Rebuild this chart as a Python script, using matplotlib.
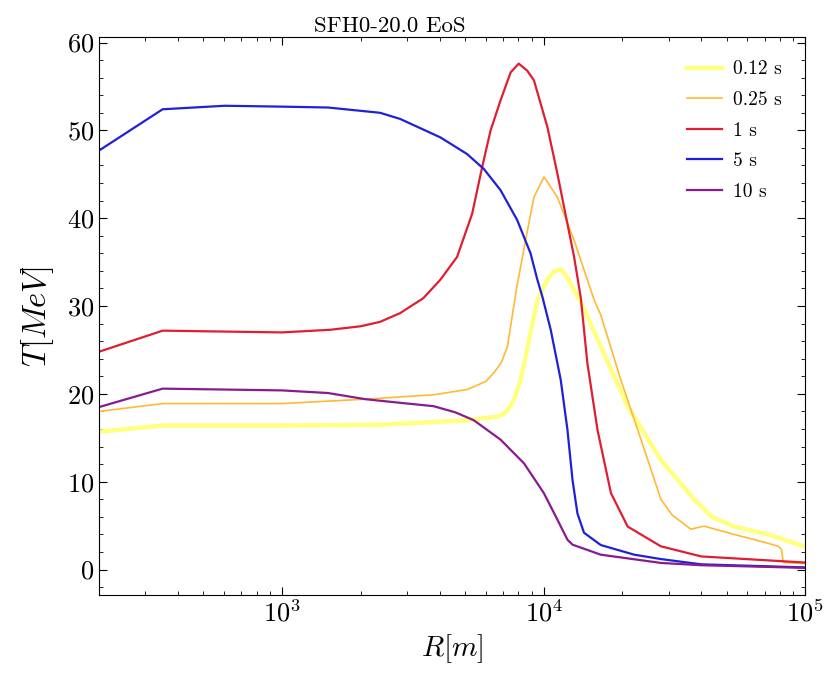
import matplotlib
matplotlib.use('Agg')

import matplotlib.pyplot as plt
import numpy as np

plt.rcParams.update({
    'font.family': 'serif',
    'font.serif': ['cmr10', 'DejaVu Serif'],
    'mathtext.fontset': 'cm',
    'axes.formatter.use_mathtext': True,
    'axes.unicode_minus': False,
    'font.size': 19,
    'xtick.direction': 'in',
    'ytick.direction': 'in',
    'xtick.top': True,
    'ytick.right': True,
    'xtick.major.size': 6,
    'ytick.major.size': 6,
    'xtick.minor.size': 3,
    'ytick.minor.size': 3,
    'xtick.minor.visible': True,
    'ytick.minor.visible': True,
})

# radius (m) and temperature (MeV)
r_012 = [200, 350, 1000, 2400, 5100, 6640, 7100, 7480, 7800, 8170, 8790, 9460, 10330,
         10900, 11620, 12300, 13070, 13900, 16520, 20940, 28000, 37600, 44000, 53500,
         72100, 100000]
t_012 = [15.7, 16.4, 16.4, 16.5, 17.0, 17.4, 17.8, 18.6, 19.8, 21.6, 26.1, 30.7, 33.0,
         33.9, 34.2, 33.3, 31.8, 30.4, 25.4, 18.6, 12.5, 8.0, 6.0, 4.9,
         4.0, 2.6]

r_025 = [200, 350, 1000, 2080, 3800, 5100, 6000, 6450, 6900, 7270, 7880, 8530, 9180,
         10030, 11280, 13070, 15590, 16520, 19720, 23550, 28050, 31000, 36500, 41000,
         53500, 70000, 78900, 81000, 82400, 100000]
t_025 = [18.0, 18.9, 18.9, 19.4, 19.9, 20.5, 21.4, 22.4, 23.6, 25.4, 32.0, 37.5, 42.4,
         44.7, 42.4, 37.5, 30.7, 29.0, 21.6, 14.8, 8.0, 6.2, 4.6, 4.95,
         4.0, 3.1, 2.65, 2.3, 0.8, 0.7]

r_1 = [200, 350, 1000, 1530, 2000, 2370, 2830, 3470, 4030, 4670, 5330, 5820, 6270,
       6840, 7480, 8030, 8650, 9180, 10330, 11280, 11960, 13070, 13870, 14690, 16060,
       18080, 20940, 28050, 40000, 100000]
t_1 = [24.8, 27.2, 27.0, 27.3, 27.7, 28.2, 29.2, 30.9, 33.0, 35.6, 40.5, 45.8, 50.0,
       53.4, 56.6, 57.6, 56.8, 55.7, 50.4, 45.1, 41.3, 35.6, 30.9, 23.5, 15.9,
       8.7, 4.9, 2.65, 1.5, 0.8]

r_5 = [200, 350, 605, 1000, 1500, 2370, 2830, 4030, 5100, 5910, 6840, 7920, 8910,
       9460, 9880, 10640, 11620, 12330, 12890, 13460, 14260, 16520, 22170, 28050,
       40000, 100000]
t_5 = [47.7, 52.4, 52.8, 52.7, 52.6, 52.0, 51.3, 49.2, 47.3, 45.6, 43.2, 39.8, 36.0,
       33.0, 31.1, 27.3, 21.6, 15.9, 10.2, 6.4, 4.2, 2.8, 1.7, 1.2,
       0.6, 0.25]

r_10 = [200, 350, 1000, 1500, 2080, 2800, 3800, 4600, 5410, 6840, 8410, 10020, 11280,
        12330, 12890, 16520, 28050, 40000, 100000]
t_10 = [18.5, 20.6, 20.4, 20.1, 19.4, 19.0, 18.6, 17.9, 17.0, 14.8, 12.1, 8.7, 5.7,
        3.4, 2.84, 1.7, 0.76, 0.5, 0.2]

fig = plt.figure(figsize=(8.32, 6.77), dpi=100)
ax = fig.add_axes([0.119, 0.121, 0.849, 0.824])

ax.plot(r_012, t_012, color='#ffff80', lw=3.2, label='0.12 s')
ax.plot(r_025, t_025, color='#ffb934', lw=1.2, label='0.25 s')
ax.plot(r_1, t_1, color='#e01e32', lw=1.6, label='1 s')
ax.plot(r_5, t_5, color='#2020d8', lw=1.6, label='5 s')
ax.plot(r_10, t_10, color='#8a1a90', lw=1.6, label='10 s')

ax.set_xscale('log')
ax.set_xlim(200, 1e5)
ax.set_ylim(-2.9, 60.6)
ax.yaxis.set_minor_locator(matplotlib.ticker.MultipleLocator(2))

ax.set_xlabel('$R[m]$', fontsize=21)
ax.set_ylabel('$T[MeV]$', fontsize=23.5, labelpad=8)
ax.set_title('SFH0-20.0 EoS', fontsize=16.5, x=0.412, pad=4)

ax.legend(loc='upper right', frameon=False, fontsize=14, handlelength=1.8,
          handletextpad=0.6, labelspacing=0.65, borderaxespad=0.8)

plt.savefig('out.png', dpi=100)
plt.close()
